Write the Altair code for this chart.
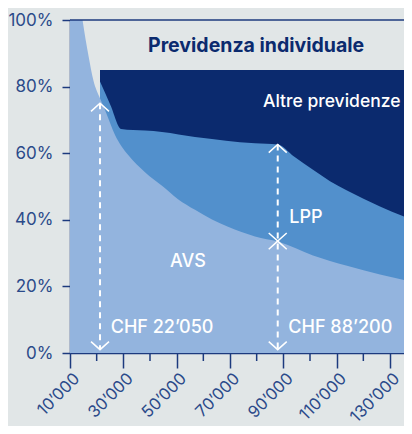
import altair as alt
import pandas as pd

# ---------------- data ----------------
X_DOMAIN = [10000, 138250]

avs_income = [10000, 12000, 14700, 17000, 18740, 21250, 23130, 26880, 31750, 38130,
              44500, 50500, 56880, 63250, 69250, 79380, 88200, 101130, 113880, 126250, 138250]
avs_share = [1.35, 1.17, 1.00, 0.89, 0.82, 0.765, 0.73, 0.655, 0.595, 0.543,
             0.502, 0.462, 0.43, 0.401, 0.379, 0.35, 0.334, 0.293, 0.262, 0.236, 0.214]

lpp_income = [21250, 25190, 29130, 38130, 44500, 56880, 63250, 73750, 79380, 87900,
              94000, 101130, 107500, 113880, 126250, 138250]
lpp_share = [0.815, 0.744, 0.673, 0.668, 0.664, 0.649, 0.643, 0.633, 0.630, 0.626,
             0.59, 0.55, 0.516, 0.488, 0.44, 0.40]

other_income = [21250, 138250]
other_share = [0.85, 0.85]

x_major = [10000, 30000, 50000, 70000, 90000, 110000, 130000]
x_minor = [20000, 40000, 60000, 80000, 100000, 120000]
y_ticks = [0, 0.2, 0.4, 0.6, 0.8, 1.0]

arrow_income = [21250, 87900]
arrow_top = [0.75, 0.626]
arrow_bottom = [0.01, 0.01]

up_head_income = [21250, 87900, 87900]
up_head_share = [0.75, 0.626, 0.336]
down_head_income = [21250, 87900, 87900]
down_head_share = [0.01, 0.01, 0.336]

white_labels = ["LPP", "AVS", "CHF 22\u2019050", "CHF 88\u2019200"]
white_x = [92240, 47500, 25260, 91870]
white_y = [0.39, 0.258, 0.06, 0.06]

other_label = ["Altre previdenze"]
other_label_x = [82375]
other_label_y = [0.74]

title_labels = ["Previdenza individuale"]
title_x = [39250]
title_y = [0.905]

# ---------------- style ----------------
BG = "#e1e6e7"
NAVY = "#0b2a6e"
MID = "#5290cc"
LIGHT = "#93b4de"
AXIS = "#1c3a7e"
LABEL = "#2b4a8a"
FONT = "Inter"

PLOT_W = 334      # visible part of the plot inside the page
RANGE_W = 342     # full width of the x range (runs to the window edge)
PLOT_H = 333

x_axis = alt.Axis(values=x_major, tickSize=15, labelAngle=-45, labelAlign="right",
                  labelBaseline="top", labelPadding=2, labelOffset=1, labelOverlap=False,
                  labelFontSize=16.5,
                  labelExpr="replace(format(datum.value, ','), ',', '\u2019')",
                  title=None, grid=False)
y_axis = alt.Axis(values=y_ticks, format=".0%", tickSize=8, labelPadding=9,
                  title=None, grid=False)


def X(field="x"):
    return alt.X(f"{field}:Q",
                 scale=alt.Scale(domain=X_DOMAIN, range=[0, RANGE_W], nice=False, zero=False),
                 axis=x_axis)


def Y(field="y"):
    return alt.Y(f"{field}:Q", scale=alt.Scale(domain=[0, 1], nice=False, zero=True), axis=y_axis)


avs_df = pd.DataFrame({"x": avs_income, "y": avs_share})
lpp_df = pd.DataFrame({"x": lpp_income, "y": lpp_share})
other_df = pd.DataFrame({"x": other_income, "y": other_share})
minor_df = pd.DataFrame({"x": x_minor})
top_df = pd.DataFrame({"x": [X_DOMAIN[0]], "x2": [X_DOMAIN[1]], "y": [1.0]})
arrow_df = pd.DataFrame({"x": arrow_income, "y": arrow_top, "y2": arrow_bottom})
up_df = pd.DataFrame({"x": up_head_income, "y": up_head_share})
down_df = pd.DataFrame({"x": down_head_income, "y": down_head_share})
white_df = pd.DataFrame({"x": white_x, "y": white_y, "t": white_labels})
other_lab_df = pd.DataFrame({"x": other_label_x, "y": other_label_y, "t": other_label})
title_df = pd.DataFrame({"x": title_x, "y": title_y, "t": title_labels})

other = alt.Chart(other_df).mark_area(color=NAVY).encode(x=X(), y=Y())
lpp = alt.Chart(lpp_df).mark_area(color=MID, interpolate="monotone").encode(x=X(), y=Y())
avs = alt.Chart(avs_df).mark_area(color=LIGHT, interpolate="monotone", clip=True).encode(x=X(), y=Y())

top_rule = alt.Chart(top_df).mark_rule(color=AXIS, strokeWidth=1.5).encode(
    x=X(), x2="x2:Q", y=Y())
minor = alt.Chart(minor_df).mark_rule(color=AXIS, strokeWidth=1.5).encode(
    x=X(), y=alt.value(PLOT_H), y2=alt.value(PLOT_H + 8))

arrows = alt.Chart(arrow_df).mark_rule(color="white", strokeWidth=2, strokeDash=[6, 5]).encode(
    x=X(), y=Y(), y2="y2:Q")
up_heads = alt.Chart(up_df).mark_point(shape="M-1,0.9L0,0L1,0.9", size=324, filled=False,
                                       color="white", strokeWidth=1.5, opacity=1).encode(x=X(), y=Y())
down_heads = alt.Chart(down_df).mark_point(shape="M-1,-0.9L0,0L1,-0.9", size=324, filled=False,
                                           color="white", strokeWidth=1.5, opacity=1).encode(x=X(), y=Y())

white_text = alt.Chart(white_df).mark_text(color="white", font=FONT, fontSize=18, fontWeight=500,
                                           align="left", baseline="alphabetic").encode(
    x=X(), y=Y(), text="t:N")
other_text = alt.Chart(other_lab_df).mark_text(color="white", font=FONT, fontSize=17.5, fontWeight=500,
                                               align="left", baseline="alphabetic").encode(
    x=X(), y=Y(), text="t:N")
title_text = alt.Chart(title_df).mark_text(color=NAVY, font=FONT, fontSize=19.5, fontWeight=700,
                                           align="left", baseline="alphabetic").encode(
    x=X(), y=Y(), text="t:N")

chart = alt.layer(other, lpp, avs, top_rule, minor, arrows, up_heads, down_heads,
                  white_text, other_text, title_text).properties(
    width=PLOT_W, height=PLOT_H,
    autosize=alt.AutoSizeParams(type="none"),
    padding={"left": 62, "top": 12, "right": 0, "bottom": 73},
).configure(background=BG).configure_view(strokeWidth=0).configure_axis(
    domainColor=AXIS, tickColor=AXIS, domainWidth=1.5, tickWidth=1.5,
    labelColor=LABEL, labelFont=FONT, labelFontSize=17,
)

chart.save("out.html", embed_options={"renderer": "svg", "actions": False})
